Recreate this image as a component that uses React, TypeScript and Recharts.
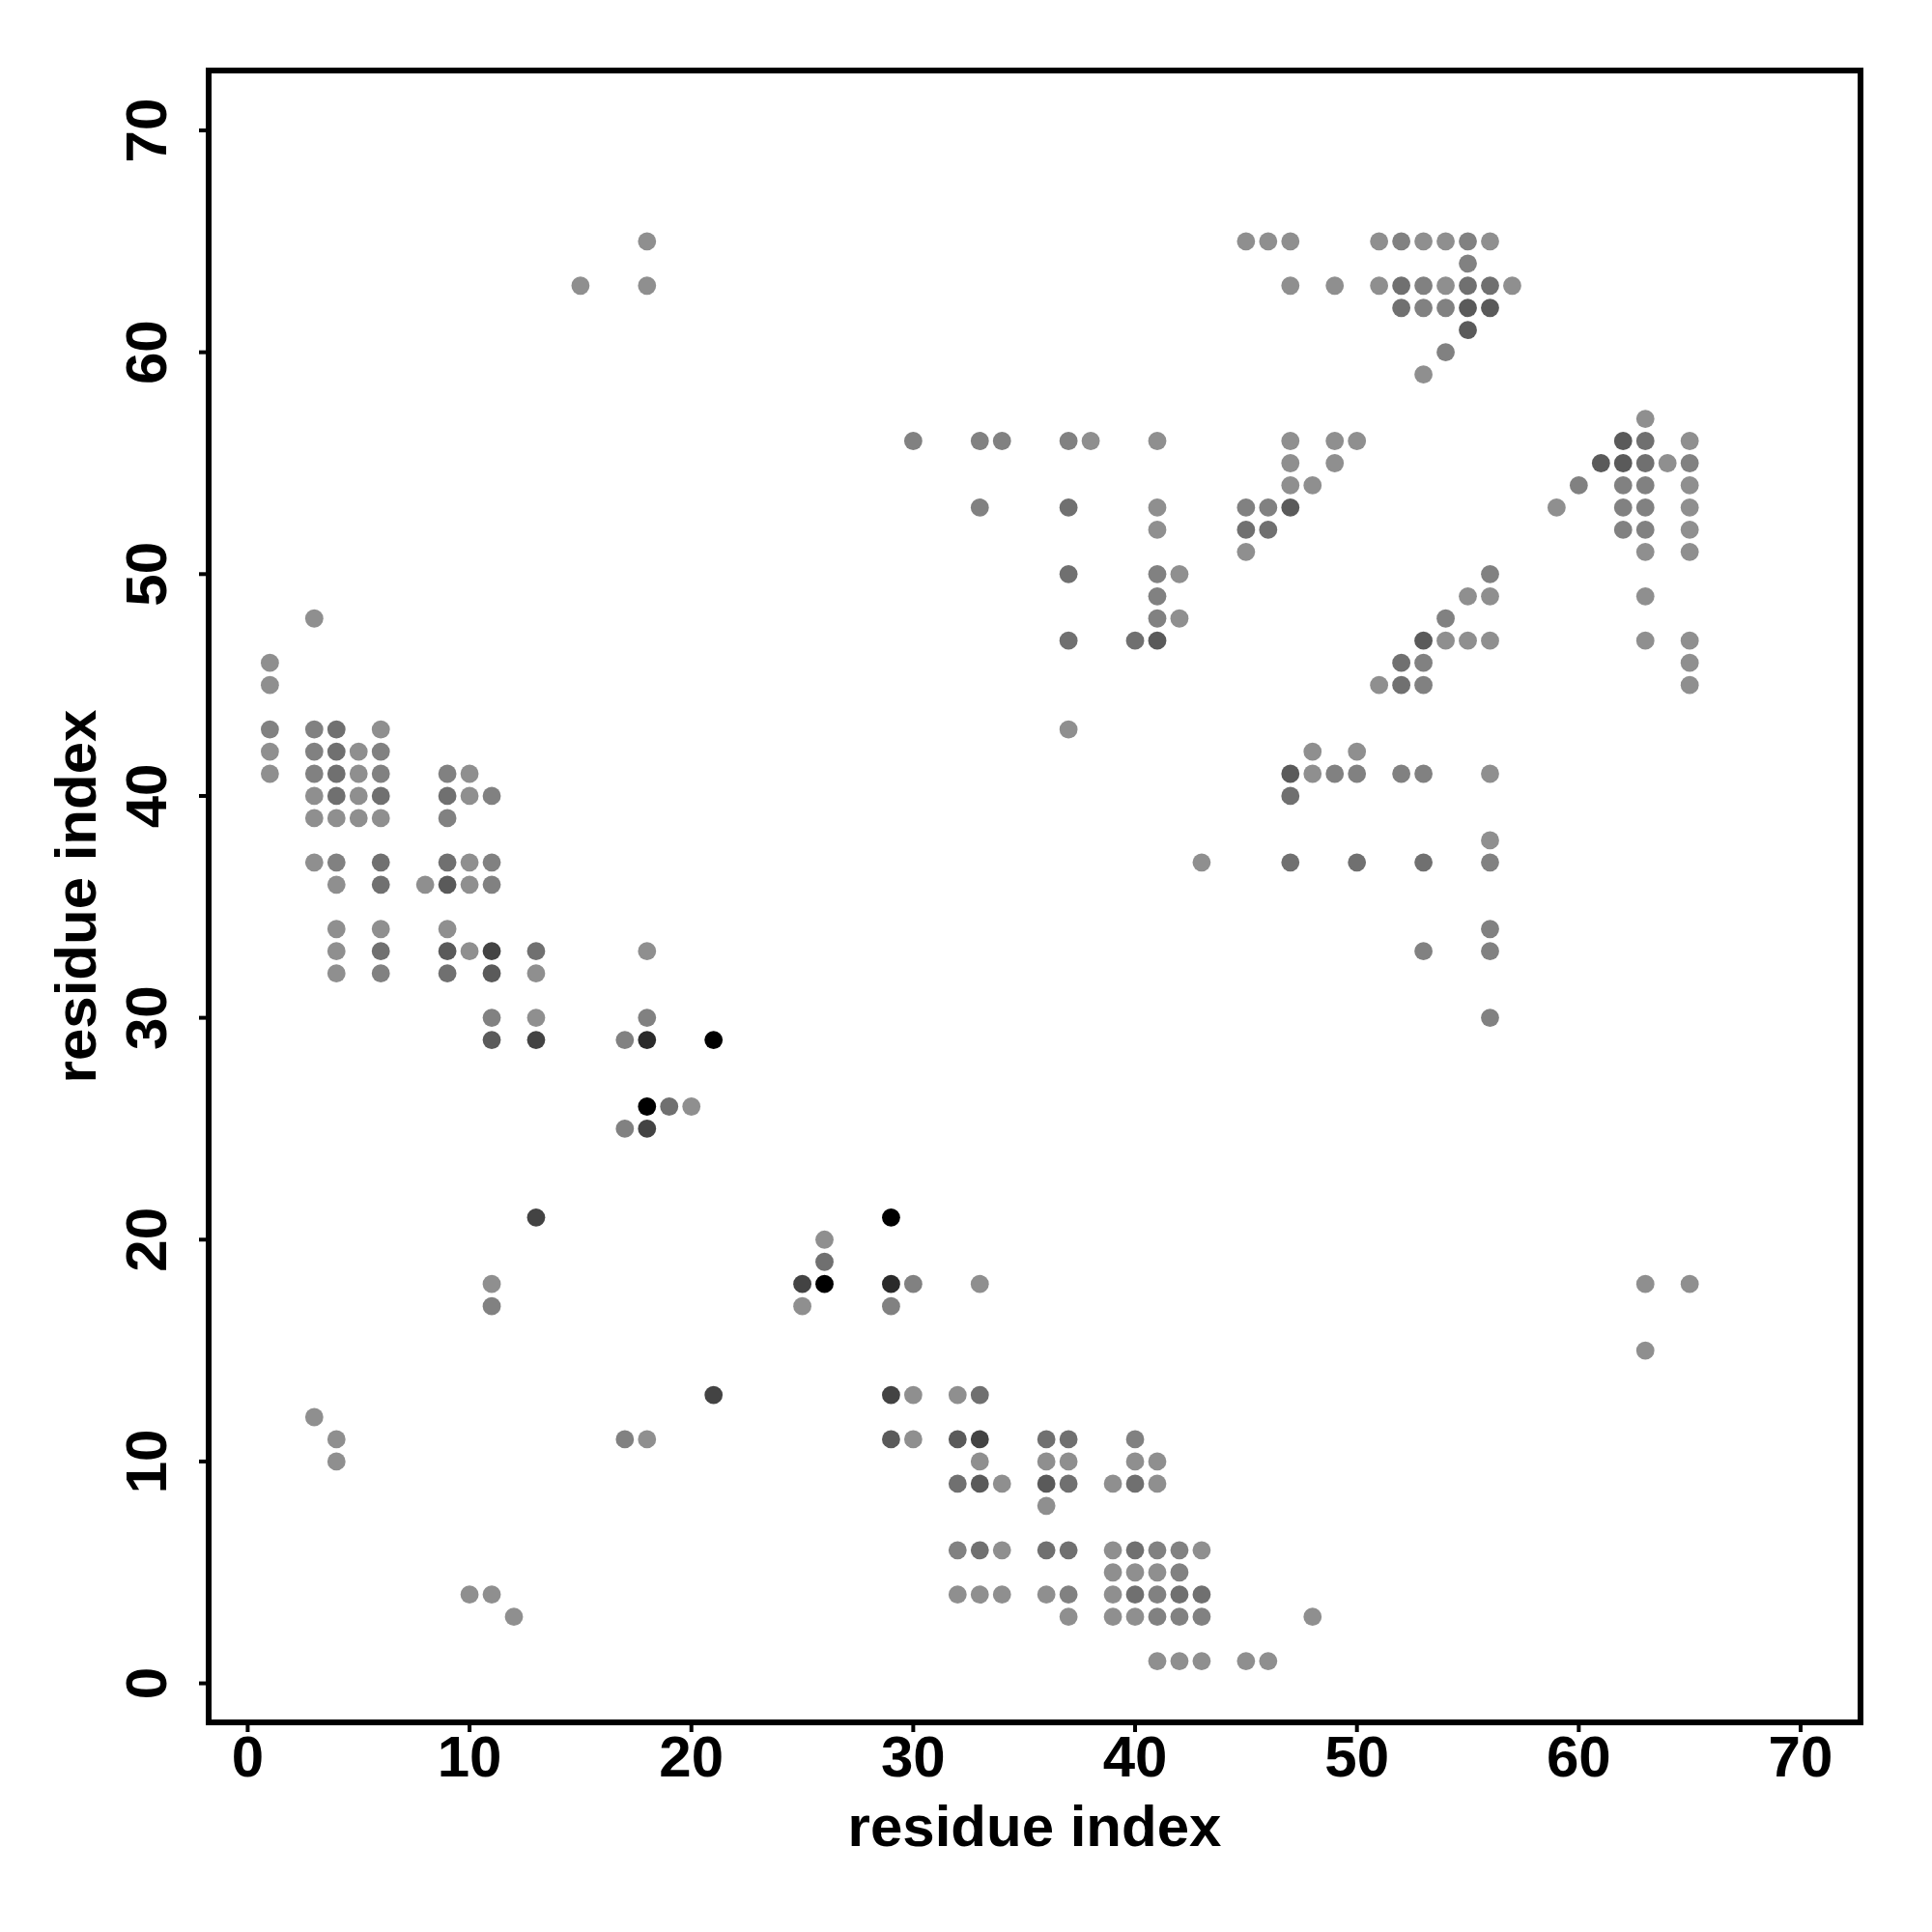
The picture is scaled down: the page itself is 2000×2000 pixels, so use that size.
import React from 'react';
import { ScatterChart, Scatter, XAxis, YAxis, ReferenceArea, Label } from 'recharts';

// contact map points [residue i, residue j], grouped by darkness (overlap count)
const level1Contacts: [number, number][] = [
  [1, 46], [1, 45], [1, 42], [1, 41],
  [3, 48], [3, 40], [3, 39], [3, 37], [3, 12],
  [4, 39], [4, 36], [4, 34], [4, 33], [4, 32], [4, 11], [4, 10],
  [5, 42], [5, 41], [5, 40], [5, 39],
  [6, 43], [6, 39], [6, 34],
  [8, 36], [9, 34],
  [10, 41], [10, 40], [10, 37], [10, 36], [10, 33], [10, 4],
  [11, 18], [11, 4], [12, 3], [13, 32], [13, 30], [15, 63],
  [18, 65], [18, 63], [18, 33], [18, 11],
  [20, 26], [25, 17], [26, 20],
  [30, 13], [30, 11], [32, 13], [32, 4],
  [33, 18], [33, 10], [33, 4],
  [34, 9], [34, 6], [34, 4],
  [36, 10], [36, 8], [36, 4],
  [37, 43], [37, 10], [37, 3], [38, 56],
  [39, 9], [39, 6], [39, 5], [39, 4], [39, 3],
  [40, 10], [40, 5], [40, 3],
  [41, 56], [41, 53], [41, 52], [41, 10], [41, 9], [41, 5], [41, 1],
  [42, 50], [42, 48], [42, 1],
  [43, 37], [43, 6], [43, 1],
  [45, 65], [45, 51], [45, 1], [46, 65], [46, 1],
  [47, 65], [47, 63], [47, 56], [47, 55], [47, 54],
  [48, 54], [48, 42], [48, 41], [48, 3],
  [49, 63], [49, 56], [49, 55],
  [50, 56], [50, 42],
  [51, 65], [51, 63], [51, 45],
  [53, 65], [53, 59],
  [54, 65], [54, 63], [54, 47],
  [55, 49], [55, 47],
  [56, 65], [56, 49], [56, 47], [56, 41], [56, 38],
  [57, 63], [59, 53],
  [63, 57], [63, 51], [63, 49], [63, 47], [63, 18], [63, 15],
  [64, 55],
  [65, 56], [65, 54], [65, 53], [65, 52], [65, 51], [65, 47], [65, 46], [65, 45], [65, 18],
];

const level2Contacts: [number, number][] = [
  [1, 43], [3, 43], [3, 42], [3, 41], [4, 37],
  [6, 42], [6, 41], [6, 32], [9, 41], [9, 39],
  [11, 40], [11, 37], [11, 36], [11, 30], [11, 17],
  [17, 29], [17, 25], [17, 11], [18, 30],
  [29, 17], [30, 56], [30, 18], [32, 6],
  [33, 56], [33, 53], [34, 56], [37, 56], [37, 4], [40, 11],
  [41, 50], [41, 49], [41, 48], [41, 6], [41, 4], [41, 3],
  [42, 6], [42, 5], [42, 3], [43, 3],
  [45, 53], [46, 53], [49, 41], [50, 41],
  [52, 65], [52, 41],
  [53, 63], [53, 62], [53, 46], [53, 45], [53, 41], [53, 33],
  [54, 62], [54, 60], [54, 48],
  [55, 65], [55, 64],
  [56, 50], [56, 37], [56, 34], [56, 33], [56, 30],
  [60, 54], [62, 54], [62, 53], [62, 52],
  [63, 54], [63, 53], [63, 52], [65, 55],
];

const level3Contacts: [number, number][] = [
  [4, 43], [4, 42], [4, 41], [4, 40],
  [6, 40], [6, 37], [6, 36], [6, 33],
  [9, 40], [9, 37], [9, 32], [13, 33],
  [19, 26], [26, 19], [32, 9], [33, 13], [33, 6],
  [36, 11], [36, 6],
  [37, 53], [37, 50], [37, 47], [37, 11], [37, 9], [37, 6],
  [40, 47], [40, 9], [40, 6], [40, 4],
  [42, 4], [43, 4], [45, 52], [46, 52],
  [47, 40], [47, 37], [50, 37],
  [52, 63], [52, 62], [52, 46], [52, 45],
  [53, 37], [55, 63], [56, 63], [63, 56], [63, 55],
];

const level4Contacts: [number, number][] = [
  [9, 36], [9, 33], [11, 32], [11, 29],
  [29, 11], [32, 11], [33, 9], [36, 9],
  [41, 47], [47, 53], [47, 41], [53, 47],
  [55, 62], [55, 61], [56, 62], [61, 55], [62, 56], [62, 55],
];

const level5Contacts: [number, number][] = [
  [11, 33], [13, 29], [13, 21], [18, 25], [21, 13], [25, 18], [29, 13], [33, 11],
];

const level6Contacts: [number, number][] = [[18, 29], [29, 18]];

const level7Contacts: [number, number][] = [[18, 26], [21, 29], [26, 18], [29, 21]];

const axisTicks = [0, 10, 20, 30, 40, 50, 60, 70];
const axisTitle = 'residue index';

const levels = [
  { data: level1Contacts, fill: '#8f8f8f' },
  { data: level2Contacts, fill: '#818181' },
  { data: level3Contacts, fill: '#707070' },
  { data: level4Contacts, fill: '#5a5a5a' },
  { data: level5Contacts, fill: '#434343' },
  { data: level6Contacts, fill: '#2a2a2a' },
  { data: level7Contacts, fill: '#000000' },
];

const DOMAIN: [number, number] = [-1.76, 72.7];
const FONT = '"Liberation Sans", Arial, Helvetica, sans-serif';

const XTick = (props: any) => {
  const { x, y, payload } = props;
  return (
    <text x={x} y={y} dy={44} textAnchor="middle" fontFamily={FONT} fontWeight="bold" fontSize={60} fill="#000">
      {payload.value}
    </text>
  );
};

const YTick = (props: any) => {
  const { x, y, payload } = props;
  const bx = x - 32;
  return (
    <text x={bx} y={y} transform={`rotate(-90, ${bx}, ${y})`} textAnchor="middle" fontFamily={FONT} fontWeight="bold" fontSize={60} fill="#000">
      {payload.value}
    </text>
  );
};

const XTitle = (props: any) => {
  const vb = props.viewBox || { x: 216, y: 1783, width: 1710, height: 100 };
  return (
    <text x={vb.x + vb.width / 2} y={vb.y + 128} textAnchor="middle" fontFamily={FONT} fontWeight="bold" fontSize={60} fill="#000">
      {axisTitle}
    </text>
  );
};

const YTitle = (props: any) => {
  const vb = props.viewBox || { x: 116, y: 73, width: 100, height: 1710 };
  const cx = vb.x - 17;
  const cy = vb.y + vb.height / 2;
  return (
    <text x={cx} y={cy} transform={`rotate(-90, ${cx}, ${cy})`} textAnchor="middle" fontFamily={FONT} fontWeight="bold" fontSize={60} fill="#000">
      {axisTitle}
    </text>
  );
};

export default function App() {
  return (
    <div style={{ position: 'absolute', left: 0, top: 0, width: 2000, height: 2000, background: '#fff' }}>
      <ScatterChart width={2000} height={2000} margin={{ top: 73, right: 74, bottom: 117, left: 116 }}>
        <XAxis
          type="number"
          dataKey="x"
          domain={DOMAIN}
          ticks={axisTicks}
          interval={0}
          allowDataOverflow
          axisLine={false}
          tickLine={{ stroke: '#000', strokeWidth: 4 }}
          tickSize={10}
          height={100}
          tick={<XTick />}
        >
          <Label content={<XTitle />} />
        </XAxis>
        <YAxis
          type="number"
          dataKey="y"
          domain={DOMAIN}
          ticks={axisTicks}
          interval={0}
          allowDataOverflow
          axisLine={false}
          tickLine={{ stroke: '#000', strokeWidth: 4 }}
          tickSize={10}
          width={100}
          tick={<YTick />}
        >
          <Label content={<YTitle />} />
        </YAxis>
        {levels.map((lvl, i) => (
          <Scatter
            key={i}
            data={lvl.data.map(([x, y]) => ({ x, y }))}
            isAnimationActive={false}
            shape={(p: any) => <circle cx={p.cx} cy={p.cy} r={9.4} fill={lvl.fill} />}
          />
        ))}
        <ReferenceArea x1={DOMAIN[0]} x2={DOMAIN[1]} y1={DOMAIN[0]} y2={DOMAIN[1]} fill="none" stroke="#000" strokeWidth={6} ifOverflow="visible" />
      </ScatterChart>
    </div>
  );
}
